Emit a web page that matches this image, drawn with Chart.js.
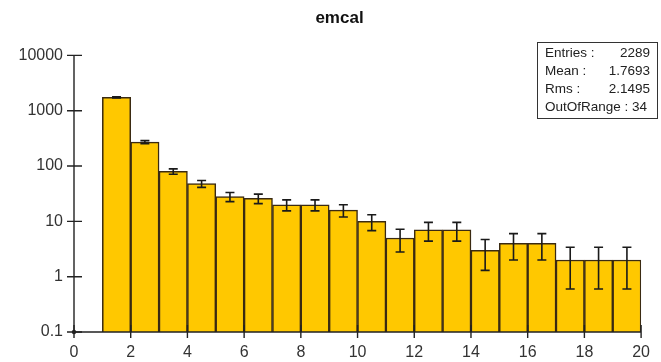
<!DOCTYPE html>
<html>
<head>
<meta charset="utf-8">
<title>emcal</title>
<script src="https://cdn.jsdelivr.net/npm/chart.js@4/dist/chart.umd.min.js"></script>
<style>
  html, body { margin: 0; padding: 0; background: #ffffff; }
  #wrap { width: 661px; height: 362px; }
</style>
</head>
<body>
<div id="wrap"><canvas id="c" width="661" height="362"></canvas></div>
<script>
// Histogram "emcal": 19 unit-wide bins from 1 to 20
const binLow = [1, 2, 3, 4, 5, 6, 7, 8, 9, 10, 11, 12, 13, 14, 15, 16, 17, 18, 19];
const counts = [1740, 271, 80, 48, 28, 26, 20, 20, 16, 10, 5, 7, 7, 3, 4, 4, 2, 2, 2];
const errors = [41.7, 16.5, 8.9, 6.9, 5.3, 5.1, 4.5, 4.5, 4.0, 3.2, 2.2, 2.6, 2.6, 1.7, 2.0, 2.0, 1.4, 1.4, 1.4];

// Axis tick labels
const yTickValues = [0.1, 1, 10, 100, 1000, 10000];
const yTickLabels = ['0.1', '1', '10', '100', '1000', '10000'];
const xTickLabels = ['0', '2', '4', '6', '8', '10', '12', '14', '16', '18', '20'];

// Statistics box
const statNames = ['Entries :', 'Mean :', 'Rms :', 'OutOfRange :'];
const statValues = ['2289', '1.7693', '2.1495', '34'];

const FONT = "'Liberation Sans', Arial, sans-serif";
const AXIS = '#222222';

const points = binLow.map((lo, i) => ({ x: lo + 0.5, y: counts[i] }));

const histDecor = {
  id: 'histDecor',
  afterLayout(chart) {
    // nudge the title so it sits a little right of the canvas centre
    const t = chart.titleBlock;
    if (t) { t.left += 5; t.right += 5; }
  },
  afterDatasetsDraw(chart) {
    const { ctx, chartArea: a } = chart;
    const xs = chart.scales.x, ys = chart.scales.y;
    ctx.save();

    // error bars
    ctx.strokeStyle = '#1a1a1a';
    ctx.lineWidth = 1.6;
    binLow.forEach((lo, i) => {
      const cx = xs.getPixelForValue(lo + 0.5);
      const lowV = Math.max(counts[i] - errors[i], ys.min);
      const yHi = ys.getPixelForValue(counts[i] + errors[i]);
      const yLo = ys.getPixelForValue(lowV);
      ctx.beginPath();
      ctx.moveTo(cx, yHi); ctx.lineTo(cx, yLo);
      ctx.moveTo(cx - 4.5, yHi); ctx.lineTo(cx + 4.5, yHi);
      ctx.moveTo(cx - 4.5, yLo); ctx.lineTo(cx + 4.5, yLo);
      ctx.stroke();
    });

    // axes
    ctx.strokeStyle = AXIS;
    ctx.lineWidth = 1.4;
    ctx.beginPath();
    ctx.moveTo(a.left, a.top); ctx.lineTo(a.left, a.bottom);
    ctx.moveTo(a.left, a.bottom); ctx.lineTo(a.right, a.bottom);
    ctx.stroke();

    // y ticks crossing the axis
    ctx.beginPath();
    yTickValues.forEach(v => {
      const py = ys.getPixelForValue(v);
      ctx.moveTo(a.left - 7, py); ctx.lineTo(a.left + 8, py);
    });
    // x ticks crossing the axis
    xs.ticks.forEach(t => {
      const px = xs.getPixelForValue(t.value);
      ctx.moveTo(px, a.bottom - 7); ctx.lineTo(px, a.bottom + 6);
    });
    ctx.stroke();

    // origin dot
    ctx.fillStyle = AXIS;
    ctx.beginPath();
    ctx.arc(a.left, a.bottom, 2.2, 0, Math.PI * 2);
    ctx.fill();

    // statistics box
    const bx = 537, by = 42, bw = 120, bh = 76;
    ctx.fillStyle = '#ffffff';
    ctx.fillRect(bx, by, bw, bh);
    ctx.strokeStyle = '#333333';
    ctx.lineWidth = 1;
    ctx.strokeRect(bx + 0.5, by + 0.5, bw, bh);
    ctx.fillStyle = '#222222';
    ctx.font = `13.5px ${FONT}`;
    ctx.textBaseline = 'middle';
    statNames.forEach((name, i) => {
      const ty = 53 + i * 18;
      ctx.textAlign = 'left';
      if (i === statNames.length - 1) {
        ctx.fillText(name + ' ' + statValues[i], bx + 8, ty);
      } else {
        ctx.fillText(name, bx + 8, ty);
        ctx.textAlign = 'right';
        ctx.fillText(statValues[i], bx + bw - 7, ty);
      }
    });
    ctx.restore();
  }
};

new Chart(document.getElementById('c'), {
  type: 'bar',
  data: {
    datasets: [{
      label: 'emcal',
      data: points,
      backgroundColor: '#ffc800',
      borderColor: '#3a2a12',
      borderWidth: 1.5,
      borderSkipped: 'start',
      barPercentage: 1.0,
      categoryPercentage: 1.0,
      grouped: false
    }]
  },
  options: {
    responsive: false,
    animation: false,
    devicePixelRatio: 1,
    layout: { padding: { left: 18, right: 10, top: 0, bottom: 0 } },
    plugins: {
      legend: { display: false },
      tooltip: { enabled: false },
      title: {
        display: true,
        text: 'emcal',
        color: '#111111',
        font: { family: FONT, size: 17, weight: 'bold' },
        padding: { top: 8, bottom: 27 }
      }
    },
    scales: {
      x: {
        type: 'linear',
        min: 0,
        max: 20,
        offset: false,
        grid: { display: false, drawTicks: false, tickLength: 0 },
        border: { display: false },
        ticks: {
          stepSize: 2,
          autoSkip: false,
          maxRotation: 0,
          padding: 11,
          color: '#333333',
          font: { family: FONT, size: 16 },
          callback: (v, i) => xTickLabels[i]
        },
        afterFit: s => { s.height = 30; }
      },
      y: {
        type: 'logarithmic',
        min: 0.1,
        max: 10000,
        grid: { display: false, drawTicks: false, tickLength: 0 },
        border: { display: false },
        afterBuildTicks: s => { s.ticks = yTickValues.map(v => ({ value: v })); },
        ticks: {
          padding: 11,
          color: '#333333',
          font: { family: FONT, size: 16 },
          callback: (v, i) => yTickLabels[i]
        },
        afterFit: s => { s.width = 56; }
      }
    }
  },
  plugins: [histDecor]
});
</script>
</body>
</html>
